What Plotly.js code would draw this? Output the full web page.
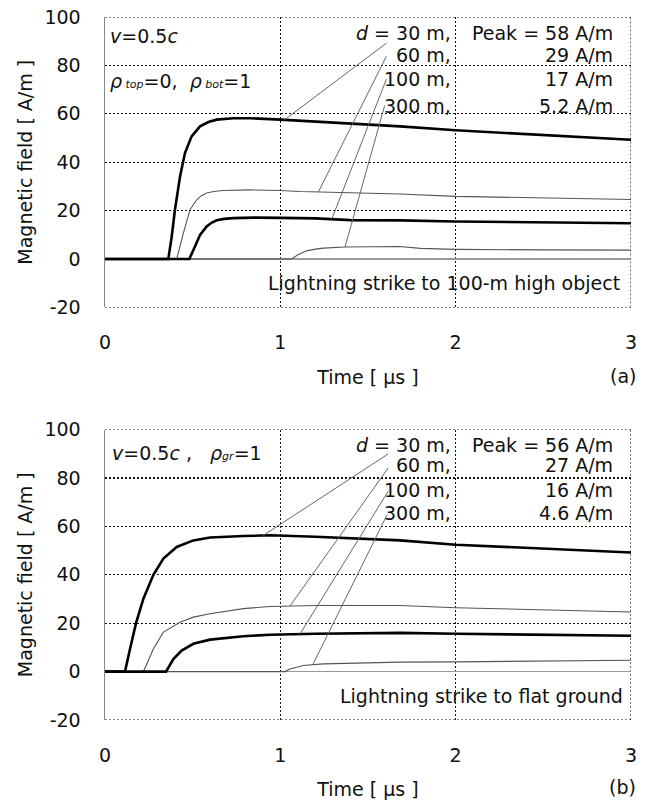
<!DOCTYPE html>
<html><head><meta charset="utf-8">
<script src="https://cdn.plot.ly/plotly-3.0.1.min.js"></script>
<style>html,body{margin:0;padding:0;background:#fff}#chart{width:648px;height:800px}</style>
</head><body><div id="chart"></div>
<script>
// ---- (a) Lightning strike to 100-m high object ----
const tA30  = [0, 0.361, 0.38, 0.399, 0.428, 0.456, 0.494, 0.542, 0.59, 0.637, 0.732, 0.827, 1.0, 1.3, 1.683, 2.0, 2.5, 2.824, 3.0];
const vA30  = [0, 0, 9, 20.4, 34.1, 43.8, 50.7, 54.8, 56.6, 57.6, 58.2, 58.2, 57.6, 56.4, 54.8, 53.2, 51.1, 49.8, 49.3];
const tA60  = [0, 0.409, 0.447, 0.485, 0.523, 0.55, 0.58, 0.62, 0.675, 0.827, 1.0, 1.112, 1.4, 1.683, 2.0, 2.5, 2.82, 3.0];
const vA60  = [0, 0, 10.7, 20.4, 24.5, 26.2, 27.3, 27.9, 28.3, 28.6, 28.3, 27.9, 27.4, 26.9, 25.9, 25.2, 24.8, 24.6];
const tA100 = [0, 0.481, 0.513, 0.542, 0.58, 0.607, 0.637, 0.68, 0.732, 0.85, 1.0, 1.2, 1.4, 1.683, 2.0, 2.5, 2.82, 3.0];
const vA100 = [0, 0, 5.2, 10.0, 13.5, 15.0, 16.0, 16.6, 16.9, 17.1, 17.0, 16.8, 16.1, 16.0, 15.5, 15.1, 14.9, 14.8];
const tA300 = [0, 1.065, 1.1, 1.15, 1.2, 1.245, 1.369, 1.5, 1.68, 1.8, 2.0, 2.5, 3.0];
const vA300 = [0, 0, 1.8, 3.4, 4.1, 4.5, 5.0, 5.2, 5.2, 4.4, 4.0, 3.8, 3.7];

// ---- (b) Lightning strike to flat ground ----
const tB30  = [0, 0.114, 0.143, 0.177, 0.219, 0.276, 0.333, 0.409, 0.504, 0.599, 0.789, 0.941, 1.2, 1.683, 2.0, 2.5, 2.82, 3.0];
const vB30  = [0, 0, 9.4, 20, 30.1, 40, 46.7, 51.5, 54.2, 55.4, 56.0, 56.3, 55.7, 54.2, 52.4, 50.8, 49.8, 49.2];
const tB60  = [0, 0.219, 0.25, 0.276, 0.333, 0.428, 0.504, 0.599, 0.789, 0.941, 1.2, 1.5, 1.683, 2.0, 2.5, 2.82, 3.0];
const vB60  = [0, 0, 5.0, 9.4, 16.3, 20.4, 22.5, 23.9, 26.0, 26.9, 27.3, 27.4, 27.3, 26.4, 25.4, 24.8, 24.6];
const tB100 = [0, 0.348, 0.39, 0.437, 0.504, 0.599, 0.789, 0.941, 1.2, 1.5, 1.683, 2.0, 2.5, 3.0];
const vB100 = [0, 0, 5.2, 8.7, 11.5, 13.2, 14.6, 15.2, 15.6, 15.9, 16.0, 15.6, 15.1, 14.8];
const tB300 = [0, 1.027, 1.055, 1.131, 1.245, 1.436, 1.683, 2.0, 2.5, 3.0];
const vB300 = [0, 0, 1.1, 2.5, 3.2, 3.6, 3.9, 4.0, 4.4, 4.7];

// labels
const distLabels = ['<i>d</i> = 30 m,', '60 m,', '100 m,', '300 m,'];
const peaksA = ['Peak = 58 A/m', '29 A/m', '17 A/m', '5.2 A/m'];
const peaksB = ['Peak = 56 A/m', '27 A/m', '16 A/m', '4.6 A/m'];
const xTicks = [0, 1, 2, 3];
const yTicks = [-20, 0, 20, 40, 60, 80, 100];

const FONT = '"DejaVu Sans", Arial, sans-serif';
const thick = {color: '#000', width: 2.6};
const thin = {color: '#555', width: 1.1};

function tr(t, v, line, xa, ya) {
  return {x: t, y: v, type: 'scatter', mode: 'lines', line: Object.assign({shape: 'linear'}, line),
          xaxis: xa, yaxis: ya, hoverinfo: 'skip'};
}
function interp(ts, vs, t) {
  for (let i = 1; i < ts.length; i++) {
    if (t <= ts[i]) { const f = (t - ts[i-1]) / (ts[i] - ts[i-1]); return vs[i-1] + f * (vs[i] - vs[i-1]); }
  }
  return vs[vs.length - 1];
}

const data = [
  tr(tA60, vA60, thin, 'x', 'y'), tr(tA300, vA300, thin, 'x', 'y'),
  tr(tA30, vA30, thick, 'x', 'y'), tr(tA100, vA100, thick, 'x', 'y'),
  tr(tB60, vB60, thin, 'x2', 'y2'), tr(tB300, vB300, thin, 'x2', 'y2'),
  tr(tB30, vB30, thick, 'x2', 'y2'), tr(tB100, vB100, thick, 'x2', 'y2')
];

const shapes = [];
// dotted frame (top, right, bottom) for each panel
const dotLine = {color: '#111', width: 1.2, dash: '2px,2px'};
[['x', 'y'], ['x2', 'y2']].forEach(([xr, yr]) => {
  shapes.push({type: 'line', xref: xr, yref: yr, x0: 0, x1: 3, y0: 100, y1: 100, line: dotLine, layer: 'below'});
  shapes.push({type: 'line', xref: xr, yref: yr, x0: 0, x1: 3, y0: -20, y1: -20, line: dotLine, layer: 'below'});
  shapes.push({type: 'line', xref: xr, yref: yr, x0: 3, x1: 3, y0: -20, y1: 100, line: dotLine, layer: 'below'});
});
// leader lines: label anchor (t, v) -> point on curve at t
const leadA = [[1.605, 89.2, tA30, vA30, 1.024], [1.605, 83.8, tA60, vA60, 1.217], [1.605, 74.3, tA100, vA100, 1.293], [1.595, 63.4, tA300, vA300, 1.369]];
const leadB = [[1.615, 89.9, tB30, vB30, 0.902], [1.615, 84.1, tB60, vB60, 1.055], [1.615, 74.5, tB100, vB100, 1.112], [1.609, 64.8, tB300, vB300, 1.185]];
function addLeads(list, xr, yr) {
  list.forEach(l => shapes.push({type: 'line', xref: xr, yref: yr, x0: l[0], y0: l[1], x1: l[4], y1: interp(l[2], l[3], l[4]),
    line: {color: '#666', width: 1}}));
}
addLeads(leadA, 'x', 'y');
addLeads(leadB, 'x2', 'y2');

const ann = [];
function txt(xr, yr, x, y, text, anchor) {
  ann.push({xref: xr, yref: yr, x: x, y: y, text: text, showarrow: false, xanchor: anchor, yanchor: 'middle',
    font: {family: FONT, size: 19, color: '#111'}});
}
const rowsA = [93.3, 84.5, 74.3, 63.4];
const rowsB = [93.8, 85.5, 75.2, 65.5];
distLabels.forEach((s, i) => txt('x', 'y', 1.985, rowsA[i], s, 'right'));
peaksA.forEach((s, i) => txt('x', 'y', 2.91, rowsA[i], s, 'right'));
distLabels.forEach((s, i) => txt('x2', 'y2', 1.985, rowsB[i], s, 'right'));
peaksB.forEach((s, i) => txt('x2', 'y2', 2.91, rowsB[i], s, 'right'));
txt('x', 'y', 0.016, 92, '<i>v</i>=0.5<i>c</i>', 'left');
txt('x', 'y', 0.016, 73.6, '<i>ρ</i><span style="font-size:11px"><i> top</i></span>=0,  <i>ρ</i><span style="font-size:11px"><i> bot</i></span>=1', 'left');
txt('x2', 'y2', 0.03, 90.3, '<i>v</i>=0.5<i>c</i> ,   <i>ρ</i><span style="font-size:11px"><i>gr</i></span>=1', 'left');
txt('x', 'y', 2.95, -9.9, 'Lightning strike to 100-m high object', 'right');
txt('x2', 'y2', 2.965, -9.9, 'Lightning strike to flat ground', 'right');
txt('paper', 'paper', 1.0133, 0.490, '(a)', 'right');
txt('paper', 'paper', 1.0133, -0.0953, '(b)', 'right');

function xax(anchor) {
  return {anchor: anchor, range: [0, 3], tickvals: xTicks, ticktext: xTicks.map(String), showgrid: true, gridcolor: '#111',
    griddash: '2px,2px', gridwidth: 1.2, zeroline: false, showline: false, ticks: '', ticklabelstandoff: 22,
    tickfont: {family: FONT, size: 19, color: '#111'}, fixedrange: true,
    title: {text: 'Time [ μs ]', standoff: 18, font: {family: FONT, size: 19, color: '#111'}}};
}
function yax(anchor, dom) {
  return {anchor: anchor, domain: dom, range: [-20, 100], tickvals: yTicks, ticktext: yTicks.map(String), showgrid: true,
    gridcolor: '#111', griddash: '2px,2px', gridwidth: 1.2, zeroline: true, zerolinecolor: '#999', zerolinewidth: 1.5,
    showline: true, linecolor: '#888', linewidth: 1.5, ticks: '', ticklabelstandoff: 19,
    tickfont: {family: FONT, size: 19, color: '#111'}, fixedrange: true,
    title: {text: 'Magnetic field [ A/m ]', standoff: 7, font: {family: FONT, size: 19, color: '#111'}}};
}

const layout = {
  width: 648, height: 800, margin: {l: 105, r: 17, t: 17, b: 80},
  paper_bgcolor: '#fff', plot_bgcolor: '#fff', showlegend: false,
  font: {family: FONT, size: 19, color: '#111'},
  xaxis: xax('y'), yaxis: yax('x', [0.5868, 1]),
  xaxis2: xax('y2'), yaxis2: yax('x2', [0, 0.4132]),
  shapes: shapes, annotations: ann
};
Plotly.newPlot('chart', data, layout, {staticPlot: true, displayModeBar: false});
</script></body></html>
